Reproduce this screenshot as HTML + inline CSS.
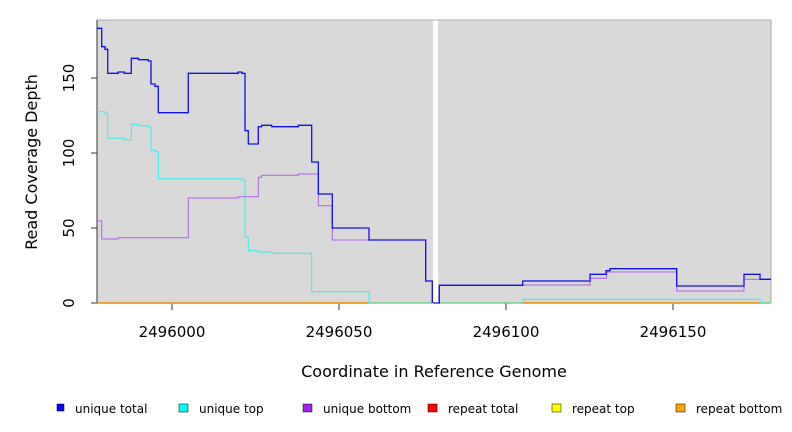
<!DOCTYPE html>
<html><head><meta charset="utf-8"><style>
html,body{margin:0;padding:0;background:#fff;}
svg{display:block;font-family:"DejaVu Sans","Liberation Sans",sans-serif;}
</style></head><body>
<svg width="792" height="432" viewBox="0 0 792 432" xmlns="http://www.w3.org/2000/svg">
<rect x="97" y="20" width="674" height="283" fill="#d9d9d9"/>
<rect x="433" y="20" width="5" height="284" fill="#fff"/>
<line x1="97" y1="20" x2="771" y2="20" stroke="#aaa" stroke-width="1"/>
<line x1="771" y1="20" x2="771" y2="303" stroke="#aaa" stroke-width="1"/>
<g stroke="#333" stroke-width="1">
<line x1="97" y1="20" x2="97" y2="303"/>
<line x1="91" y1="78" x2="97" y2="78"/>
<line x1="91" y1="153" x2="97" y2="153"/>
<line x1="91" y1="228" x2="97" y2="228"/>
<line x1="91" y1="303" x2="97" y2="303"/>
<line x1="172" y1="303" x2="172" y2="310"/>
<line x1="339" y1="303" x2="339" y2="310"/>
<line x1="506" y1="303" x2="506" y2="310"/>
<line x1="673" y1="303" x2="673" y2="310"/>
</g>
<g font-size="15" fill="#000" text-anchor="middle">
<text transform="translate(74,78) rotate(-90)">150</text>
<text transform="translate(74,153) rotate(-90)">100</text>
<text transform="translate(74,228) rotate(-90)">50</text>
<text transform="translate(74,303) rotate(-90)">0</text>
<text x="172" y="337">2496000</text>
<text x="339" y="337">2496050</text>
<text x="506" y="337">2496100</text>
<text x="673" y="337">2496150</text>
<text x="434" y="377" font-size="16">Coordinate in Reference Genome</text>
<text transform="translate(37,162) rotate(-90)" font-size="16">Read Coverage Depth</text>
</g>
<line x1="97" y1="303" x2="432" y2="303" stroke="#55cc77" stroke-width="1.2"/>
<line x1="438" y1="303" x2="771" y2="303" stroke="#55cc77" stroke-width="1.2"/>
<line x1="97" y1="303" x2="368" y2="303" stroke="#ff8c00" stroke-width="1.4"/>
<line x1="523" y1="303" x2="760" y2="303" stroke="#ff8c00" stroke-width="1.4"/>
<polyline fill="none" stroke="#33eeee" stroke-width="1" points="97,111.7 105,111.7 105,113.3 107.7,113.3 107.7,138.3 124.3,138.3 124.3,139.7 131.3,139.7 131.3,124.3 138.3,124.3 138.3,125.7 148.3,125.7 148.3,127 151,127 151,150.3 155,150.3 155,151.7 158.3,151.7 158.3,178.7 241.7,178.7 241.7,180 245,180 245,237.3 248.3,237.3 248.3,250.7 258.3,250.7 258.3,252 271.7,252 271.7,253.3 311.7,253.3 311.7,291.7 369,291.7 369,303"/>
<polyline fill="none" stroke="#33eeee" stroke-width="1" points="523.3,303 523.3,299.3 760,299.3 760,303"/>
<polyline fill="none" stroke="#b060f0" stroke-width="1" points="97,220.7 101.7,220.7 101.7,239 118.3,239 118.3,237.7 188.3,237.7 188.3,198 238.3,198 238.3,196.7 258.3,196.7 258.3,177.3 261.7,177.3 261.7,175.3 298.3,175.3 298.3,174 318.3,174 318.3,205.7 332.3,205.7 332.3,240 425.7,240 425.7,281 432.3,281 432.3,303"/>
<polyline fill="none" stroke="#b060f0" stroke-width="1" points="439.3,303 439.3,285.3 522.7,285.3 522.7,285 590,285 590,278.3 606.7,278.3 606.7,272 676.7,272 676.7,291 744,291 744,279.3 771,279.3"/>
<polyline fill="none" stroke="#1010ee" stroke-width="1.3" points="97,28.3 101.7,28.3 101.7,46.7 105,46.7 105,49.3 107.7,49.3 107.7,73.3 118.3,73.3 118.3,72 124.3,72 124.3,73.3 131.3,73.3 131.3,58.3 138.3,58.3 138.3,59.7 148.3,59.7 148.3,61 151,61 151,84 155,84 155,86.3 158.3,86.3 158.3,112.7 188.3,112.7 188.3,73.3 238.3,73.3 238.3,72 241.7,72 241.7,73.3 245,73.3 245,130.7 248.3,130.7 248.3,144 258.3,144 258.3,126.7 261.7,126.7 261.7,125.3 271.7,125.3 271.7,126.7 298.3,126.7 298.3,125.3 311.7,125.3 311.7,162 318.3,162 318.3,194 332.3,194 332.3,228 369,228 369,240 425.7,240 425.7,281 432.3,281 432.3,303"/>
<polyline fill="none" stroke="#1010ee" stroke-width="1.3" points="433,303 439.3,303 439.3,285.3 522.7,285.3 522.7,281 590,281 590,274.3 606,274.3 606,270.7 610,270.7 610,268.7 676.7,268.7 676.7,286 744,286 744,274.3 760,274.3 760,279.3 771,279.3"/>
<g font-size="12" fill="#000">
<rect x="57" y="404" width="7" height="7" fill="#0000ff" stroke="#000" stroke-width="0.5"/>
<text x="75" y="413">unique total</text>
<rect x="179" y="404" width="9" height="8" fill="#00ffff" stroke="#000" stroke-width="0.5"/>
<text x="199" y="413">unique top</text>
<rect x="303" y="404" width="9" height="8" fill="#a020f0" stroke="#000" stroke-width="0.5"/>
<text x="323" y="413">unique bottom</text>
<rect x="428" y="404" width="9" height="8" fill="#ff0000" stroke="#000" stroke-width="0.5"/>
<text x="448" y="413">repeat total</text>
<rect x="552" y="404" width="9" height="8" fill="#ffff00" stroke="#000" stroke-width="0.5"/>
<text x="572" y="413">repeat top</text>
<rect x="676" y="404" width="9" height="8" fill="#ffa500" stroke="#000" stroke-width="0.5"/>
<text x="696" y="413">repeat bottom</text>
</g>
</svg>
</body></html>
